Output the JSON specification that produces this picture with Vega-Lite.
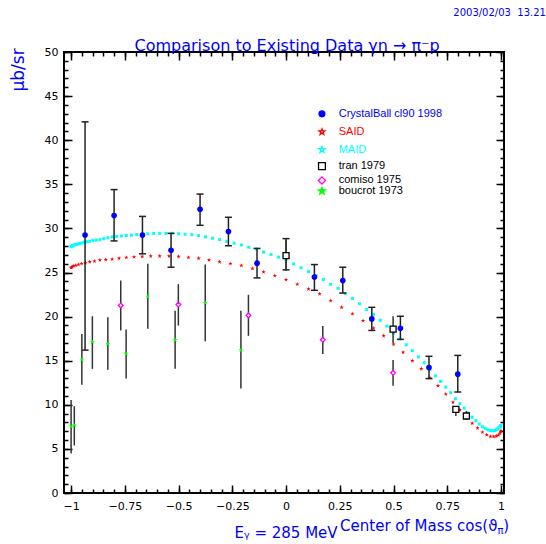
{
  "$schema": "https://vega.github.io/schema/vega-lite/v6.json",
  "width": 440,
  "height": 441,
  "autosize": {"type": "none"},
  "padding": {"left": 64, "top": 52, "right": 42, "bottom": 51},
  "background": "white",
  "config": {
    "view": {"stroke": "black", "strokeWidth": 2},
    "axis": {"grid": false, "domain": false, "tickColor": "black", "tickWidth": 1.5, "labelColor": "black", "labelFont": "DejaVu Sans", "labelFontSize": 11, "title": null},
    "text": {"font": "DejaVu Sans"}
  },
  "resolve": {"axis": {"x": "independent", "y": "independent"}},
  "datasets": {
    "said": [
      {"x":1.0,"y":7.05},{"x":0.9986,"y":6.95},{"x":0.9945,"y":6.75},{"x":0.9877,"y":6.55},{"x":0.9781,"y":6.45},{"x":0.9659,"y":6.4},{"x":0.9511,"y":6.4},{"x":0.9336,"y":6.6},{"x":0.9135,"y":6.9},{"x":0.891,"y":7.36},{"x":0.866,"y":7.91},{"x":0.8387,"y":8.62},{"x":0.809,"y":9.43},{"x":0.7771,"y":10.29},{"x":0.7431,"y":11.2},{"x":0.7071,"y":12.16},{"x":0.6691,"y":13.07},{"x":0.6293,"y":14.08},{"x":0.5878,"y":14.99},{"x":0.5446,"y":15.95},{"x":0.5,"y":16.86},{"x":0.454,"y":17.82},{"x":0.4067,"y":18.68},{"x":0.3584,"y":19.54},{"x":0.309,"y":20.3},{"x":0.2588,"y":21.05},{"x":0.2079,"y":21.81},{"x":0.1564,"y":22.57},{"x":0.1045,"y":23.12},{"x":0.0523,"y":23.68},{"x":0,"y":24.19},{"x":-0.0523,"y":24.64},{"x":-0.1045,"y":25.05},{"x":-0.1564,"y":25.45},{"x":-0.2079,"y":25.8},{"x":-0.2588,"y":26.0},{"x":-0.309,"y":26.21},{"x":-0.3584,"y":26.41},{"x":-0.4067,"y":26.61},{"x":-0.454,"y":26.71},{"x":-0.5,"y":26.81},{"x":-0.5446,"y":26.86},{"x":-0.5878,"y":26.86},{"x":-0.6293,"y":26.86},{"x":-0.6691,"y":26.81},{"x":-0.7071,"y":26.76},{"x":-0.7431,"y":26.71},{"x":-0.7771,"y":26.61},{"x":-0.809,"y":26.51},{"x":-0.8387,"y":26.46},{"x":-0.866,"y":26.41},{"x":-0.891,"y":26.28},{"x":-0.9135,"y":26.21},{"x":-0.9336,"y":26.1},{"x":-0.9511,"y":26.0},{"x":-0.9659,"y":25.9},{"x":-0.9781,"y":25.8},{"x":-0.9877,"y":25.75},{"x":-0.9945,"y":25.65},{"x":-0.9986,"y":25.6},{"x":-1.0,"y":25.55}
    ],
    "maid": [
      {"x":1.0,"y":7.66},{"x":0.9994,"y":7.61},{"x":0.9976,"y":7.56},{"x":0.9945,"y":7.46},{"x":0.9903,"y":7.41},{"x":0.9848,"y":7.26},{"x":0.9781,"y":7.16},{"x":0.9703,"y":7.07},{"x":0.9613,"y":7.05},{"x":0.9511,"y":7.07},{"x":0.9397,"y":7.15},{"x":0.9272,"y":7.3},{"x":0.9135,"y":7.5},{"x":0.8988,"y":7.82},{"x":0.8829,"y":8.2},{"x":0.866,"y":8.6},{"x":0.848,"y":9.06},{"x":0.829,"y":9.62},{"x":0.809,"y":10.13},{"x":0.788,"y":10.69},{"x":0.766,"y":11.38},{"x":0.7431,"y":12.0},{"x":0.7193,"y":12.65},{"x":0.6947,"y":13.27},{"x":0.6691,"y":14.02},{"x":0.6428,"y":14.77},{"x":0.6157,"y":15.43},{"x":0.5878,"y":16.14},{"x":0.5592,"y":16.8},{"x":0.5299,"y":17.46},{"x":0.5,"y":18.11},{"x":0.4695,"y":18.92},{"x":0.4384,"y":19.58},{"x":0.4067,"y":20.23},{"x":0.3746,"y":20.8},{"x":0.342,"y":21.45},{"x":0.309,"y":22.05},{"x":0.2756,"y":22.6},{"x":0.2419,"y":23.2},{"x":0.2079,"y":23.66},{"x":0.1736,"y":24.2},{"x":0.1392,"y":24.66},{"x":0.1045,"y":25.1},{"x":0.0698,"y":25.53},{"x":0.0349,"y":25.97},{"x":0,"y":26.45},{"x":-0.0349,"y":26.74},{"x":-0.0698,"y":27.04},{"x":-0.1045,"y":27.32},{"x":-0.1392,"y":27.67},{"x":-0.1736,"y":27.87},{"x":-0.2079,"y":28.13},{"x":-0.2419,"y":28.33},{"x":-0.2756,"y":28.53},{"x":-0.309,"y":28.73},{"x":-0.342,"y":28.89},{"x":-0.3746,"y":29.04},{"x":-0.4067,"y":29.19},{"x":-0.4384,"y":29.29},{"x":-0.4695,"y":29.34},{"x":-0.5,"y":29.39},{"x":-0.5299,"y":29.44},{"x":-0.5592,"y":29.44},{"x":-0.5878,"y":29.44},{"x":-0.6157,"y":29.44},{"x":-0.6428,"y":29.39},{"x":-0.6691,"y":29.34},{"x":-0.6947,"y":29.29},{"x":-0.7193,"y":29.24},{"x":-0.7431,"y":29.19},{"x":-0.766,"y":29.14},{"x":-0.788,"y":29.09},{"x":-0.809,"y":29.04},{"x":-0.829,"y":28.94},{"x":-0.848,"y":28.84},{"x":-0.866,"y":28.73},{"x":-0.8829,"y":28.68},{"x":-0.8988,"y":28.63},{"x":-0.9135,"y":28.53},{"x":-0.9272,"y":28.48},{"x":-0.9397,"y":28.43},{"x":-0.9511,"y":28.33},{"x":-0.9613,"y":28.28},{"x":-0.9703,"y":28.23},{"x":-0.9781,"y":28.18},{"x":-0.9848,"y":28.13},{"x":-0.9903,"y":28.08},{"x":-0.9945,"y":28.03},{"x":-0.9976,"y":27.98},{"x":-0.9994,"y":27.93},{"x":-1.0,"y":27.93}
    ],
    "cb": [
      {"x":-0.935,"y":29.24,"lo":16.2,"hi":42.08},{"x":-0.8,"y":31.46,"lo":28.58,"hi":34.4},{"x":-0.668,"y":29.24,"lo":27.12,"hi":31.36},{"x":-0.535,"y":27.52,"lo":25.6,"hi":29.44},{"x":-0.4,"y":32.17,"lo":30.35,"hi":33.89},{"x":-0.268,"y":29.64,"lo":28.03,"hi":31.26},{"x":-0.135,"y":26.06,"lo":24.39,"hi":27.73},{"x":0,"y":26.92,"lo":25.3,"hi":28.84},{"x":0.132,"y":24.49,"lo":22.98,"hi":25.9},{"x":0.264,"y":24.09,"lo":22.67,"hi":25.6},{"x":0.399,"y":19.74,"lo":18.43,"hi":21.05},{"x":0.532,"y":18.68,"lo":17.42,"hi":20.04},{"x":0.665,"y":14.23,"lo":12.97,"hi":15.5},{"x":0.799,"y":13.47,"lo":11.45,"hi":15.6}
    ],
    "tran": [
      {"x":0,"y":26.92,"lo":25.2,"hi":28.7},{"x":0.498,"y":18.58,"lo":17.01,"hi":20.04},{"x":0.79,"y":9.48,"lo":8.73,"hi":9.84},{"x":0.839,"y":8.73,"lo":8.32,"hi":9.28}
    ],
    "comiso": [
      {"x":-0.769,"y":21.26,"lo":18.43,"hi":24.09},{"x":-0.501,"y":21.36,"lo":18.98,"hi":23.68},{"x":-0.175,"y":20.14,"lo":17.82,"hi":22.47},{"x":0.171,"y":17.37,"lo":15.75,"hi":18.93},{"x":0.498,"y":13.63,"lo":12.16,"hi":15.09}
    ],
    "boucrot": [
      {"x":-1.0,"y":7.56,"lo":4.48,"hi":10.54},{"x":-0.985,"y":7.66,"lo":5.39,"hi":9.84},{"x":-0.95,"y":15.14,"lo":12.26,"hi":18.02},{"x":-0.901,"y":17.11,"lo":14.08,"hi":20.04},{"x":-0.829,"y":16.91,"lo":13.98,"hi":19.94},{"x":-0.744,"y":15.8,"lo":12.97,"hi":18.53},{"x":-0.643,"y":22.27,"lo":18.63,"hi":26.0},{"x":-0.516,"y":17.36,"lo":14.08,"hi":20.65},{"x":-0.376,"y":21.56,"lo":17.21,"hi":25.9},{"x":-0.21,"y":16.2,"lo":11.86,"hi":20.65}
    ],
    "legend": [
      {"name":"CrystalBall cl90 1998","y":42.99},{"name":"SAID","y":40.94},{"name":"MAID","y":38.93},{"name":"tran 1979","y":37.06},{"name":"comiso 1975","y":35.44},{"name":"boucrot 1973","y":34.23}
    ]
  },
  "layer": [
    {
      "data": {"name": "said"},
      "mark": {"type": "point", "shape": "M0,-1L0.24,-0.33L0.95,-0.31L0.38,0.12L0.59,0.81L0,0.4L-0.59,0.81L-0.38,0.12L-0.95,-0.31L-0.24,-0.33Z", "filled": true, "color": "#ff0000", "size": 20, "strokeWidth": 0, "opacity": 1},
      "encoding": {
        "x": {"field": "x", "type": "quantitative", "scale": {"domain": [-1.033, 1.014], "nice": false, "zero": false},
              "axis": {"orient": "bottom", "values": [-1,-0.75,-0.5,-0.25,0,0.25,0.5,0.75,1], "format": ".2~f", "ticks": false, "labelPadding": 7, "labelFlush": false, "labelOverlap": false}},
        "y": {"field": "y", "type": "quantitative", "scale": {"domain": [0, 50], "nice": false, "zero": false},
              "axis": {"orient": "left", "values": [0,5,10,15,20,25,30,35,40,45,50], "format": "d", "ticks": false, "labelPadding": 6, "labelFlush": false, "labelOverlap": false}}
      }
    },
    {
      "data": {"name": "maid"},
      "mark": {"type": "point", "shape": "square", "filled": true, "color": "#00ffff", "size": 9, "strokeWidth": 0, "opacity": 1},
      "encoding": {
        "x": {"field": "x", "type": "quantitative", "scale": {"domain": [-1.033, 1.014], "nice": false, "zero": false},
              "axis": {"orient": "bottom", "values": [-1,-0.75,-0.5,-0.25,0,0.25,0.5,0.75,1], "labels": false, "tickSize": 8, "offset": -8}},
        "y": {"field": "y", "type": "quantitative", "scale": {"domain": [0, 50], "nice": false, "zero": false},
              "axis": {"orient": "left", "values": [0,5,10,15,20,25,30,35,40,45,50], "labels": false, "tickSize": 8, "offset": -8}}
      }
    },
    {
      "data": {"name": "cb"},
      "mark": {"type": "rule", "color": "#222222", "strokeWidth": 1.5},
      "encoding": {
        "x": {"field": "x", "type": "quantitative", "scale": {"domain": [-1.033, 1.014], "nice": false, "zero": false},
              "axis": {"orient": "bottom", "values": [-1,-0.95,-0.9,-0.85,-0.8,-0.75,-0.7,-0.65,-0.6,-0.55,-0.5,-0.45,-0.4,-0.35,-0.3,-0.25,-0.2,-0.15,-0.1,-0.05,0,0.05,0.1,0.15,0.2,0.25,0.3,0.35,0.4,0.45,0.5,0.55,0.6,0.65,0.7,0.75,0.8,0.85,0.9,0.95,1], "labels": false, "tickSize": 4, "offset": -4}},
        "y": {"field": "lo", "type": "quantitative", "scale": {"domain": [0, 50], "nice": false, "zero": false},
              "axis": {"orient": "left", "values": [0,1,2,3,4,5,6,7,8,9,10,11,12,13,14,15,16,17,18,19,20,21,22,23,24,25,26,27,28,29,30,31,32,33,34,35,36,37,38,39,40,41,42,43,44,45,46,47,48,49,50], "labels": false, "tickSize": 4, "offset": -4}},
        "y2": {"field": "hi"}
      }
    },
    {
      "data": {"name": "cb"},
      "mark": {"type": "tick", "orient": "horizontal", "color": "#222222", "size": 7, "thickness": 1.5, "opacity": 1},
      "encoding": {
        "x": {"field": "x", "type": "quantitative", "scale": {"domain": [-1.033, 1.014], "nice": false, "zero": false},
              "axis": {"orient": "top", "values": [-1,-0.75,-0.5,-0.25,0,0.25,0.5,0.75,1], "labels": false, "tickSize": 8, "offset": -8}},
        "y": {"field": "lo", "type": "quantitative", "scale": {"domain": [0, 50], "nice": false, "zero": false},
              "axis": {"orient": "right", "values": [0,5,10,15,20,25,30,35,40,45,50], "labels": false, "tickSize": 8, "offset": -8}}
      }
    },
    {
      "data": {"name": "cb"},
      "mark": {"type": "tick", "orient": "horizontal", "color": "#222222", "size": 7, "thickness": 1.5, "opacity": 1},
      "encoding": {
        "x": {"field": "x", "type": "quantitative", "scale": {"domain": [-1.033, 1.014], "nice": false, "zero": false},
              "axis": {"orient": "top", "values": [-1,-0.95,-0.9,-0.85,-0.8,-0.75,-0.7,-0.65,-0.6,-0.55,-0.5,-0.45,-0.4,-0.35,-0.3,-0.25,-0.2,-0.15,-0.1,-0.05,0,0.05,0.1,0.15,0.2,0.25,0.3,0.35,0.4,0.45,0.5,0.55,0.6,0.65,0.7,0.75,0.8,0.85,0.9,0.95,1], "labels": false, "tickSize": 4, "offset": -4}},
        "y": {"field": "hi", "type": "quantitative", "scale": {"domain": [0, 50], "nice": false, "zero": false},
              "axis": {"orient": "right", "values": [0,1,2,3,4,5,6,7,8,9,10,11,12,13,14,15,16,17,18,19,20,21,22,23,24,25,26,27,28,29,30,31,32,33,34,35,36,37,38,39,40,41,42,43,44,45,46,47,48,49,50], "labels": false, "tickSize": 4, "offset": -4}}
      }
    },
    {
      "data": {"name": "tran"},
      "mark": {"type": "rule", "color": "#333333", "strokeWidth": 1.5},
      "encoding": {
        "x": {"field": "x", "type": "quantitative", "scale": {"domain": [-1.033, 1.014], "nice": false, "zero": false}, "axis": null},
        "y": {"field": "lo", "type": "quantitative", "scale": {"domain": [0, 50], "nice": false, "zero": false}, "axis": null},
        "y2": {"field": "hi"}
      }
    },
    {
      "data": {"name": "comiso"},
      "mark": {"type": "rule", "color": "#333333", "strokeWidth": 1.5},
      "encoding": {
        "x": {"field": "x", "type": "quantitative", "scale": {"domain": [-1.033, 1.014], "nice": false, "zero": false}, "axis": null},
        "y": {"field": "lo", "type": "quantitative", "scale": {"domain": [0, 50], "nice": false, "zero": false}, "axis": null},
        "y2": {"field": "hi"}
      }
    },
    {
      "data": {"name": "boucrot"},
      "mark": {"type": "rule", "color": "#333333", "strokeWidth": 1.5},
      "encoding": {
        "x": {"field": "x", "type": "quantitative", "scale": {"domain": [-1.033, 1.014], "nice": false, "zero": false}, "axis": null},
        "y": {"field": "lo", "type": "quantitative", "scale": {"domain": [0, 50], "nice": false, "zero": false}, "axis": null},
        "y2": {"field": "hi"}
      }
    },
    {
      "data": {"name": "cb"},
      "mark": {"type": "point", "shape": "circle", "filled": true, "color": "#0000ff", "size": 32, "strokeWidth": 0, "opacity": 1},
      "encoding": {
        "x": {"field": "x", "type": "quantitative", "scale": {"domain": [-1.033, 1.014], "nice": false, "zero": false}, "axis": null},
        "y": {"field": "y", "type": "quantitative", "scale": {"domain": [0, 50], "nice": false, "zero": false}, "axis": null}
      }
    },
    {
      "data": {"name": "tran"},
      "mark": {"type": "point", "shape": "square", "filled": false, "fill": "white", "stroke": "black", "size": 36, "strokeWidth": 1.3, "opacity": 1},
      "encoding": {
        "x": {"field": "x", "type": "quantitative", "scale": {"domain": [-1.033, 1.014], "nice": false, "zero": false}, "axis": null},
        "y": {"field": "y", "type": "quantitative", "scale": {"domain": [0, 50], "nice": false, "zero": false}, "axis": null}
      }
    },
    {
      "data": {"name": "comiso"},
      "mark": {"type": "point", "shape": "diamond", "filled": false, "fill": "white", "stroke": "#ff00ff", "size": 22, "strokeWidth": 1.3, "opacity": 1},
      "encoding": {
        "x": {"field": "x", "type": "quantitative", "scale": {"domain": [-1.033, 1.014], "nice": false, "zero": false}, "axis": null},
        "y": {"field": "y", "type": "quantitative", "scale": {"domain": [0, 50], "nice": false, "zero": false}, "axis": null}
      }
    },
    {
      "data": {"name": "boucrot"},
      "mark": {"type": "point", "shape": "M0,-1L0.24,-0.33L0.95,-0.31L0.38,0.12L0.59,0.81L0,0.4L-0.59,0.81L-0.38,0.12L-0.95,-0.31L-0.24,-0.33Z", "filled": true, "color": "#00ff00", "size": 26, "strokeWidth": 0, "opacity": 1},
      "encoding": {
        "x": {"field": "x", "type": "quantitative", "scale": {"domain": [-1.033, 1.014], "nice": false, "zero": false}, "axis": null},
        "y": {"field": "y", "type": "quantitative", "scale": {"domain": [0, 50], "nice": false, "zero": false}, "axis": null}
      }
    },
    {
      "data": {"name": "legend"},
      "mark": {"type": "point", "strokeWidth": 1.3, "opacity": 1},
      "encoding": {
        "x": {"datum": 0.167, "type": "quantitative", "scale": {"domain": [-1.033, 1.014], "nice": false, "zero": false}, "axis": null},
        "y": {"field": "y", "type": "quantitative", "scale": {"domain": [0, 50], "nice": false, "zero": false}, "axis": null},
        "shape": {"field": "name", "type": "nominal", "legend": null, "scale": {"domain": ["CrystalBall cl90 1998","SAID","MAID","tran 1979","comiso 1975","boucrot 1973"], "range": ["circle", "M0,-1L0.24,-0.33L0.95,-0.31L0.38,0.12L0.59,0.81L0,0.4L-0.59,0.81L-0.38,0.12L-0.95,-0.31L-0.24,-0.33Z", "M0,-1L0.24,-0.33L0.95,-0.31L0.38,0.12L0.59,0.81L0,0.4L-0.59,0.81L-0.38,0.12L-0.95,-0.31L-0.24,-0.33Z", "square", "diamond", "M0,-1L0.24,-0.33L0.95,-0.31L0.38,0.12L0.59,0.81L0,0.4L-0.59,0.81L-0.38,0.12L-0.95,-0.31L-0.24,-0.33Z"]}},
        "fill": {"field": "name", "type": "nominal", "legend": null, "scale": {"domain": ["CrystalBall cl90 1998","SAID","MAID","tran 1979","comiso 1975","boucrot 1973"], "range": ["#0000ff", "transparent", "transparent", "transparent", "transparent", "#00ff00"]}},
        "stroke": {"field": "name", "type": "nominal", "legend": null, "scale": {"domain": ["CrystalBall cl90 1998","SAID","MAID","tran 1979","comiso 1975","boucrot 1973"], "range": ["#0000ff", "#ff0000", "#00ffff", "black", "#ff00ff", "#00ff00"]}},
        "size": {"field": "name", "type": "nominal", "legend": null, "scale": {"domain": ["CrystalBall cl90 1998","SAID","MAID","tran 1979","comiso 1975","boucrot 1973"], "range": [34, 55, 55, 36, 24, 26]}}
      }
    },
    {
      "data": {"name": "legend"},
      "mark": {"type": "text", "align": "left", "baseline": "middle", "font": "Liberation Sans", "fontSize": 11},
      "encoding": {
        "x": {"datum": 0.245, "type": "quantitative", "scale": {"domain": [-1.033, 1.014], "nice": false, "zero": false}, "axis": null},
        "y": {"field": "y", "type": "quantitative", "scale": {"domain": [0, 50], "nice": false, "zero": false}, "axis": null},
        "text": {"field": "name"},
        "color": {"field": "name", "type": "nominal", "legend": null, "scale": {"domain": ["CrystalBall cl90 1998","SAID","MAID","tran 1979","comiso 1975","boucrot 1973"], "range": ["#0000ff", "#ff0000", "#00ffff", "black", "black", "black"]}}
      }
    },
    {
      "data": {"values": [{}]},
      "mark": {"type": "text", "text": "Comparison to Existing Data γn → π⁻p", "align": "center", "baseline": "alphabetic", "fontSize": 16, "color": "#0000ff"},
      "encoding": {
        "x": {"datum": 0.005, "type": "quantitative", "scale": {"domain": [-1.033, 1.014], "nice": false, "zero": false}, "axis": null},
        "y": {"datum": 50.17, "type": "quantitative", "scale": {"domain": [0, 50], "nice": false, "zero": false}, "axis": null}
      }
    },
    {
      "data": {"values": [{}]},
      "mark": {"type": "text", "text": "2003/02/03\u00a0\u00a013.21", "align": "right", "baseline": "alphabetic", "fontSize": 10, "color": "#0000ff"},
      "encoding": {
        "x": {"datum": 1.209, "type": "quantitative", "scale": {"domain": [-1.033, 1.014], "nice": false, "zero": false}, "axis": null},
        "y": {"datum": 54.05, "type": "quantitative", "scale": {"domain": [0, 50], "nice": false, "zero": false}, "axis": null}
      }
    },
    {
      "data": {"values": [{}]},
      "mark": {"type": "text", "text": "μb/sr", "align": "right", "baseline": "alphabetic", "angle": 270, "fontSize": 17, "color": "#0000ff"},
      "encoding": {
        "x": {"datum": -1.2186, "type": "quantitative", "scale": {"domain": [-1.033, 1.014], "nice": false, "zero": false}, "axis": null},
        "y": {"datum": 50.42, "type": "quantitative", "scale": {"domain": [0, 50], "nice": false, "zero": false}, "axis": null}
      }
    },
    {
      "data": {"values": [{}]},
      "mark": {"type": "text", "text": "Eᵧ = 285 MeV", "align": "left", "baseline": "alphabetic", "fontSize": 15, "color": "#0000ff"},
      "encoding": {
        "x": {"datum": -0.2395, "type": "quantitative", "scale": {"domain": [-1.033, 1.014], "nice": false, "zero": false}, "axis": null},
        "y": {"datum": -5.155, "type": "quantitative", "scale": {"domain": [0, 50], "nice": false, "zero": false}, "axis": null}
      }
    },
    {
      "data": {"values": [{}]},
      "mark": {"type": "text", "text": "Center of Mass cos(ϑ", "align": "right", "baseline": "alphabetic", "fontSize": 15, "color": "#0000ff"},
      "encoding": {
        "x": {"datum": 0.9837, "type": "quantitative", "scale": {"domain": [-1.033, 1.014], "nice": false, "zero": false}, "axis": null},
        "y": {"datum": -4.36, "type": "quantitative", "scale": {"domain": [0, 50], "nice": false, "zero": false}, "axis": null}
      }
    },
    {
      "data": {"values": [{}]},
      "mark": {"type": "text", "text": "π", "align": "right", "baseline": "alphabetic", "fontSize": 10, "color": "#0000ff"},
      "encoding": {
        "x": {"datum": 1.0116, "type": "quantitative", "scale": {"domain": [-1.033, 1.014], "nice": false, "zero": false}, "axis": null},
        "y": {"datum": -4.67, "type": "quantitative", "scale": {"domain": [0, 50], "nice": false, "zero": false}, "axis": null}
      }
    },
    {
      "data": {"values": [{}]},
      "mark": {"type": "text", "text": ")", "align": "right", "baseline": "alphabetic", "fontSize": 15, "color": "#0000ff"},
      "encoding": {
        "x": {"datum": 1.0372, "type": "quantitative", "scale": {"domain": [-1.033, 1.014], "nice": false, "zero": false}, "axis": null},
        "y": {"datum": -4.36, "type": "quantitative", "scale": {"domain": [0, 50], "nice": false, "zero": false}, "axis": null}
      }
    }
  ]
}
